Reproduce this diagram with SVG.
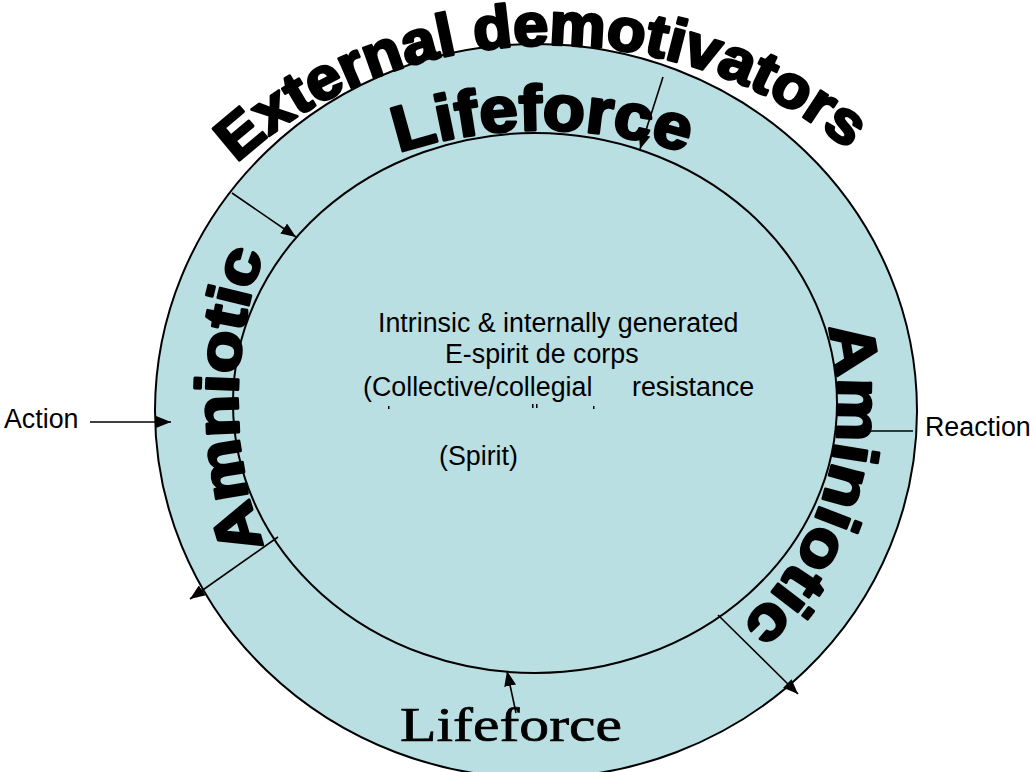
<svg xmlns="http://www.w3.org/2000/svg" width="1030" height="772" viewBox="0 0 1030 772">
<style>
.ring{fill:#badfe3;stroke:#000;stroke-width:2}
.wa{font-family:"Liberation Sans",Arial,sans-serif;font-weight:bold;fill:#000;stroke:#000;stroke-width:2.8;stroke-linejoin:round}
.body{font-family:"Liberation Sans",Arial,sans-serif;font-size:26.8px;fill:#000}
.serif{font-family:"Liberation Serif","Times New Roman",serif;fill:#000}
.con{stroke:#000;stroke-width:1.6;fill:none}
</style>
<defs>
<marker id="arr" markerUnits="userSpaceOnUse" markerWidth="16" markerHeight="12" refX="15" refY="6" orient="auto">
<path d="M0,0 L15,6 L0,12 z" fill="#000"/>
</marker>
<path id="p-ext" d="M120,420 A430,375 0 0 1 980,420"/>
<path id="p-life" d="M182,405 A360,275 0 0 1 902,405"/>
<path id="p-amn-l" d="M264,546 A422,422 0 0 1 264,254"/>
<path id="p-amn-r" d="M828,327 A303,303 0 0 1 742,624"/>
</defs>

<g id="outer-ring">
<ellipse class="ring" cx="536" cy="411" rx="381" ry="367"/>
</g>
<g id="inner-circle">
<ellipse class="ring" cx="535" cy="403" rx="302" ry="270"/>
</g>

<g id="title-external">
<text class="wa" font-size="60"><textPath href="#p-ext" startOffset="290" textLength="665" lengthAdjust="spacingAndGlyphs">External demotivators</textPath></text>
</g>
<g id="label-lifeforce-top">
<text class="wa" font-size="64"><textPath href="#p-life" startOffset="355" textLength="292" lengthAdjust="spacingAndGlyphs">Lifeforce</textPath></text>
</g>
<g id="label-amniotic-left">
<text class="wa" font-size="60"><textPath href="#p-amn-l" textLength="298" lengthAdjust="spacingAndGlyphs">Amniotic</textPath></text>
</g>
<g id="label-aminiotic-right">
<text class="wa" font-size="62"><textPath href="#p-amn-r" textLength="325" lengthAdjust="spacingAndGlyphs">Aminiotic</textPath></text>
</g>
<g id="label-lifeforce-bottom">
<text class="serif" x="400" y="741" font-size="48" textLength="222" lengthAdjust="spacingAndGlyphs" stroke="#000" stroke-width="0.7">Lifeforce</text>
</g>

<g id="center-text">
<text class="body" x="378" y="332">Intrinsic &amp; internally generated</text>
<text class="body" x="445" y="363">E-spirit de corps</text>
<text class="body" x="363" y="396">(Collective/collegial</text>
<text class="body" x="632" y="396">resistance</text>
<g fill="#000">
<rect x="388" y="406" width="1.5" height="3"/>
<rect x="532" y="404" width="1.5" height="4"/>
<rect x="536" y="404" width="1.5" height="4"/>
<rect x="593" y="406" width="1.5" height="3"/>
</g>
<text class="body" x="439" y="465">(Spirit)</text>
</g>

<g id="label-action">
<text class="body" x="4" y="428">Action</text>
</g>
<g id="label-reaction">
<text class="body" x="925" y="436">Reaction</text>
</g>

<g id="connectors">
<line class="con" x1="90" y1="422" x2="171" y2="422" marker-end="url(#arr)"/>
<line class="con" x1="858" y1="431" x2="913" y2="431"/>
<line class="con" x1="663" y1="77" x2="640" y2="149" marker-end="url(#arr)"/>
<line class="con" x1="232" y1="193" x2="296" y2="237" marker-end="url(#arr)"/>
<line class="con" x1="278" y1="537" x2="190" y2="599" marker-end="url(#arr)"/>
<line class="con" x1="718" y1="615" x2="798" y2="694" marker-end="url(#arr)"/>
<line class="con" x1="516" y1="713" x2="507" y2="671" marker-end="url(#arr)"/>
</g>
</svg>
